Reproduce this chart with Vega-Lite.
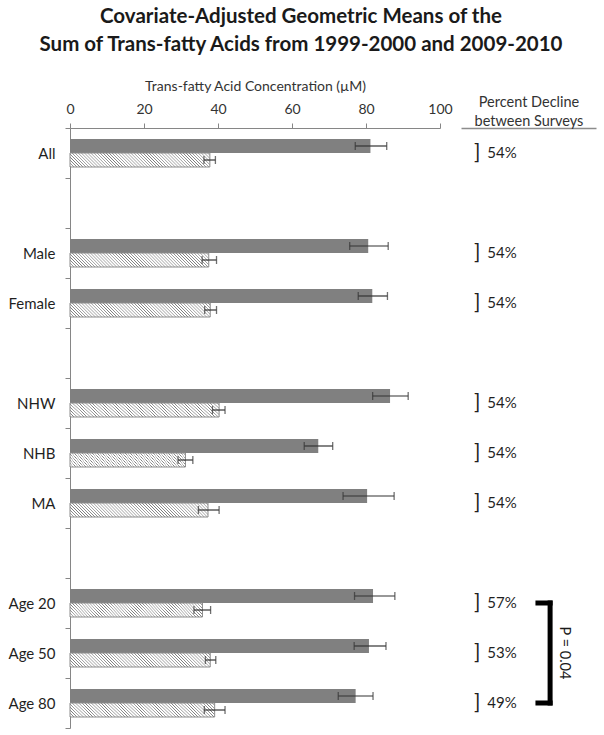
{
  "$schema": "https://vega.github.io/schema/vega-lite/v6.json",
  "autosize": {"type": "none"},
  "padding": {"left": 70, "top": 128, "right": 534, "bottom": 607},
  "background": "white",
  "title": {
    "text": ["Covariate-Adjusted Geometric Means of the", "Sum of Trans-fatty Acids from 1999-2000 and 2009-2010"],
    "anchor": "start",
    "align": "center",
    "frame": "group",
    "dx": 231,
    "font": "Lato",
    "fontSize": 20.5,
    "fontWeight": "bold",
    "color": "#1a1a1a",
    "lineHeight": 28,
    "offset": 24
  },
  "datasets": {
    "means": [
      {"group": "All", "survey": "1999-2000", "value": 81.2, "lo": 77.1, "hi": 85.6},
      {"group": "All", "survey": "2009-2010", "value": 37.8, "lo": 36.2, "hi": 39.3},
      {"group": "Male", "survey": "1999-2000", "value": 80.6, "lo": 75.6, "hi": 86.0},
      {"group": "Male", "survey": "2009-2010", "value": 37.5, "lo": 35.7, "hi": 39.6},
      {"group": "Female", "survey": "1999-2000", "value": 81.7, "lo": 77.9, "hi": 85.8},
      {"group": "Female", "survey": "2009-2010", "value": 37.9, "lo": 36.4, "hi": 39.6},
      {"group": "NHW", "survey": "1999-2000", "value": 86.5, "lo": 81.8, "hi": 91.4},
      {"group": "NHW", "survey": "2009-2010", "value": 40.3, "lo": 38.5, "hi": 41.9},
      {"group": "NHB", "survey": "1999-2000", "value": 67.1, "lo": 63.3, "hi": 71.0},
      {"group": "NHB", "survey": "2009-2010", "value": 31.2, "lo": 29.2, "hi": 33.2},
      {"group": "MA", "survey": "1999-2000", "value": 80.3, "lo": 73.8, "hi": 87.6},
      {"group": "MA", "survey": "2009-2010", "value": 37.3, "lo": 34.7, "hi": 40.3},
      {"group": "Age 20", "survey": "1999-2000", "value": 81.9, "lo": 76.9, "hi": 87.8},
      {"group": "Age 20", "survey": "2009-2010", "value": 35.8, "lo": 33.5, "hi": 38.0},
      {"group": "Age 50", "survey": "1999-2000", "value": 80.8, "lo": 76.8, "hi": 85.4},
      {"group": "Age 50", "survey": "2009-2010", "value": 37.9, "lo": 36.6, "hi": 39.4},
      {"group": "Age 80", "survey": "1999-2000", "value": 77.2, "lo": 72.5, "hi": 81.9},
      {"group": "Age 80", "survey": "2009-2010", "value": 39.1, "lo": 36.3, "hi": 41.9}
    ],
    "pct": [
      {"group": "All", "decline": 0.54},
      {"group": "Male", "decline": 0.54},
      {"group": "Female", "decline": 0.54},
      {"group": "NHW", "decline": 0.54},
      {"group": "NHB", "decline": 0.54},
      {"group": "MA", "decline": 0.54},
      {"group": "Age 20", "decline": 0.57},
      {"group": "Age 50", "decline": 0.53},
      {"group": "Age 80", "decline": 0.49}
    ],
    "arms": [{"group": "Age 20"}, {"group": "Age 80"}],
    "span": [{"group": "Age 20", "group2": "Age 80"}],
    "ptext": [{"group": "Age 50", "label": "P = 0.04"}]
  },
  "spacing": 8,
  "hconcat": [
    {
      "width": 370,
      "height": 600,
      "data": {"name": "means"},
      "encoding": {
        "y": {
          "field": "group",
          "type": "nominal",
          "sort": null,
          "scale": {"domain": ["All", "gap1", "Male", "Female", "gap2", "NHW", "NHB", "MA", "gap3", "Age 20", "Age 50", "Age 80"], "paddingInner": 0, "paddingOuter": 0},
          "axis": {
            "title": null,
            "orient": "left",
            "labelExpr": "substring(datum.value, 0, 3) === 'gap' ? '' : datum.value",
            "tickBand": "extent",
            "tickSize": 5,
            "tickColor": "#868686",
            "domainColor": "#868686",
            "labelFont": "Lato",
            "labelFontSize": 15,
            "labelColor": "#1f1f1f",
            "labelPadding": 10
          }
        },
        "yOffset": {
          "field": "survey",
          "type": "nominal",
          "scale": {"domain": ["1999-2000", "2009-2010"], "paddingInner": 0, "paddingOuter": 0.7857}
        }
      },
      "layer": [
        {
          "transform": [{"filter": "datum.survey === '1999-2000'"}],
          "mark": {"type": "bar", "fill": "#808080", "stroke": null},
          "encoding": {
            "x": {
              "field": "value",
              "type": "quantitative",
              "scale": {"domain": [0, 100], "nice": false},
              "title": "Trans-fatty Acid Concentration (µM)",
              "axis": {
                "orient": "top",
                "values": [0, 20, 40, 60, 80, 100],
                "grid": false,
                "tickSize": 5,
                "tickColor": "#868686",
                "domainColor": "#868686",
                "labelFont": "Lato",
                "labelFontSize": 14,
                "labelColor": "#333333",
                "labelPadding": 7,
                "labelFlush": false,
                "labelOverlap": false,
                "titleFont": "Lato",
                "titleFontSize": 14,
                "titleFontWeight": "normal",
                "titleColor": "#333333",
                "titlePadding": 9
              }
            }
          }
        },
        {
          "transform": [{"filter": "datum.survey === '2009-2010'"}],
          "mark": {
            "type": "bar",
            "stroke": "#8c8c8c",
            "strokeWidth": 1,
            "fill": {
              "gradient": "linear",
              "x1": 0, "y1": 1, "x2": 1.0891, "y2": 0.8911,
              "stops": [
                {"offset": 0, "color": "#fff"}, {"offset": 0.005, "color": "#7a7a7a"}, {"offset": 0.01, "color": "#fff"},
                {"offset": 0.02, "color": "#fff"}, {"offset": 0.025, "color": "#7a7a7a"}, {"offset": 0.03, "color": "#fff"},
                {"offset": 0.04, "color": "#fff"}, {"offset": 0.045, "color": "#7a7a7a"}, {"offset": 0.05, "color": "#fff"},
                {"offset": 0.06, "color": "#fff"}, {"offset": 0.065, "color": "#7a7a7a"}, {"offset": 0.07, "color": "#fff"},
                {"offset": 0.08, "color": "#fff"}, {"offset": 0.085, "color": "#7a7a7a"}, {"offset": 0.09, "color": "#fff"},
                {"offset": 0.1, "color": "#fff"}, {"offset": 0.105, "color": "#7a7a7a"}, {"offset": 0.11, "color": "#fff"},
                {"offset": 0.12, "color": "#fff"}, {"offset": 0.125, "color": "#7a7a7a"}, {"offset": 0.13, "color": "#fff"},
                {"offset": 0.14, "color": "#fff"}, {"offset": 0.145, "color": "#7a7a7a"}, {"offset": 0.15, "color": "#fff"},
                {"offset": 0.16, "color": "#fff"}, {"offset": 0.165, "color": "#7a7a7a"}, {"offset": 0.17, "color": "#fff"},
                {"offset": 0.18, "color": "#fff"}, {"offset": 0.185, "color": "#7a7a7a"}, {"offset": 0.19, "color": "#fff"},
                {"offset": 0.2, "color": "#fff"}, {"offset": 0.205, "color": "#7a7a7a"}, {"offset": 0.21, "color": "#fff"},
                {"offset": 0.22, "color": "#fff"}, {"offset": 0.225, "color": "#7a7a7a"}, {"offset": 0.23, "color": "#fff"},
                {"offset": 0.24, "color": "#fff"}, {"offset": 0.245, "color": "#7a7a7a"}, {"offset": 0.25, "color": "#fff"},
                {"offset": 0.26, "color": "#fff"}, {"offset": 0.265, "color": "#7a7a7a"}, {"offset": 0.27, "color": "#fff"},
                {"offset": 0.28, "color": "#fff"}, {"offset": 0.285, "color": "#7a7a7a"}, {"offset": 0.29, "color": "#fff"},
                {"offset": 0.3, "color": "#fff"}, {"offset": 0.305, "color": "#7a7a7a"}, {"offset": 0.31, "color": "#fff"},
                {"offset": 0.32, "color": "#fff"}, {"offset": 0.325, "color": "#7a7a7a"}, {"offset": 0.33, "color": "#fff"},
                {"offset": 0.34, "color": "#fff"}, {"offset": 0.345, "color": "#7a7a7a"}, {"offset": 0.35, "color": "#fff"},
                {"offset": 0.36, "color": "#fff"}, {"offset": 0.365, "color": "#7a7a7a"}, {"offset": 0.37, "color": "#fff"},
                {"offset": 0.38, "color": "#fff"}, {"offset": 0.385, "color": "#7a7a7a"}, {"offset": 0.39, "color": "#fff"},
                {"offset": 0.4, "color": "#fff"}, {"offset": 0.405, "color": "#7a7a7a"}, {"offset": 0.41, "color": "#fff"},
                {"offset": 0.42, "color": "#fff"}, {"offset": 0.425, "color": "#7a7a7a"}, {"offset": 0.43, "color": "#fff"},
                {"offset": 0.44, "color": "#fff"}, {"offset": 0.445, "color": "#7a7a7a"}, {"offset": 0.45, "color": "#fff"},
                {"offset": 0.46, "color": "#fff"}, {"offset": 0.465, "color": "#7a7a7a"}, {"offset": 0.47, "color": "#fff"},
                {"offset": 0.48, "color": "#fff"}, {"offset": 0.485, "color": "#7a7a7a"}, {"offset": 0.49, "color": "#fff"},
                {"offset": 0.5, "color": "#fff"}, {"offset": 0.505, "color": "#7a7a7a"}, {"offset": 0.51, "color": "#fff"},
                {"offset": 0.52, "color": "#fff"}, {"offset": 0.525, "color": "#7a7a7a"}, {"offset": 0.53, "color": "#fff"},
                {"offset": 0.54, "color": "#fff"}, {"offset": 0.545, "color": "#7a7a7a"}, {"offset": 0.55, "color": "#fff"},
                {"offset": 0.56, "color": "#fff"}, {"offset": 0.565, "color": "#7a7a7a"}, {"offset": 0.57, "color": "#fff"},
                {"offset": 0.58, "color": "#fff"}, {"offset": 0.585, "color": "#7a7a7a"}, {"offset": 0.59, "color": "#fff"},
                {"offset": 0.6, "color": "#fff"}, {"offset": 0.605, "color": "#7a7a7a"}, {"offset": 0.61, "color": "#fff"},
                {"offset": 0.62, "color": "#fff"}, {"offset": 0.625, "color": "#7a7a7a"}, {"offset": 0.63, "color": "#fff"},
                {"offset": 0.64, "color": "#fff"}, {"offset": 0.645, "color": "#7a7a7a"}, {"offset": 0.65, "color": "#fff"},
                {"offset": 0.66, "color": "#fff"}, {"offset": 0.665, "color": "#7a7a7a"}, {"offset": 0.67, "color": "#fff"},
                {"offset": 0.68, "color": "#fff"}, {"offset": 0.685, "color": "#7a7a7a"}, {"offset": 0.69, "color": "#fff"},
                {"offset": 0.7, "color": "#fff"}, {"offset": 0.705, "color": "#7a7a7a"}, {"offset": 0.71, "color": "#fff"},
                {"offset": 0.72, "color": "#fff"}, {"offset": 0.725, "color": "#7a7a7a"}, {"offset": 0.73, "color": "#fff"},
                {"offset": 0.74, "color": "#fff"}, {"offset": 0.745, "color": "#7a7a7a"}, {"offset": 0.75, "color": "#fff"},
                {"offset": 0.76, "color": "#fff"}, {"offset": 0.765, "color": "#7a7a7a"}, {"offset": 0.77, "color": "#fff"},
                {"offset": 0.78, "color": "#fff"}, {"offset": 0.785, "color": "#7a7a7a"}, {"offset": 0.79, "color": "#fff"},
                {"offset": 0.8, "color": "#fff"}, {"offset": 0.805, "color": "#7a7a7a"}, {"offset": 0.81, "color": "#fff"},
                {"offset": 0.82, "color": "#fff"}, {"offset": 0.825, "color": "#7a7a7a"}, {"offset": 0.83, "color": "#fff"},
                {"offset": 0.84, "color": "#fff"}, {"offset": 0.845, "color": "#7a7a7a"}, {"offset": 0.85, "color": "#fff"},
                {"offset": 0.86, "color": "#fff"}, {"offset": 0.865, "color": "#7a7a7a"}, {"offset": 0.87, "color": "#fff"},
                {"offset": 0.88, "color": "#fff"}, {"offset": 0.885, "color": "#7a7a7a"}, {"offset": 0.89, "color": "#fff"},
                {"offset": 0.9, "color": "#fff"}, {"offset": 0.905, "color": "#7a7a7a"}, {"offset": 0.91, "color": "#fff"},
                {"offset": 0.92, "color": "#fff"}, {"offset": 0.925, "color": "#7a7a7a"}, {"offset": 0.93, "color": "#fff"},
                {"offset": 0.94, "color": "#fff"}, {"offset": 0.945, "color": "#7a7a7a"}, {"offset": 0.95, "color": "#fff"},
                {"offset": 0.96, "color": "#fff"}, {"offset": 0.965, "color": "#7a7a7a"}, {"offset": 0.97, "color": "#fff"},
                {"offset": 0.98, "color": "#fff"}, {"offset": 0.985, "color": "#7a7a7a"}, {"offset": 0.99, "color": "#fff"},
                {"offset": 1, "color": "#fff"}
              ]
            }
          },
          "encoding": {
            "x": {"field": "value", "type": "quantitative", "title": "Trans-fatty Acid Concentration (µM)"}
          }
        },
        {
          "mark": {"type": "rule", "color": "#333333", "strokeWidth": 1.2},
          "encoding": {
            "x": {"field": "lo", "type": "quantitative", "title": "Trans-fatty Acid Concentration (µM)"},
            "x2": {"field": "hi"}
          }
        },
        {
          "mark": {"type": "tick", "color": "#333333", "thickness": 1.3, "size": 8, "orient": "vertical"},
          "encoding": {
            "x": {"field": "lo", "type": "quantitative", "title": "Trans-fatty Acid Concentration (µM)"}
          }
        },
        {
          "mark": {"type": "tick", "color": "#333333", "thickness": 1.3, "size": 8, "orient": "vertical"},
          "encoding": {
            "x": {"field": "hi", "type": "quantitative", "title": "Trans-fatty Acid Concentration (µM)"}
          }
        }
      ]
    },
    {
      "width": 135,
      "height": 600,
      "encoding": {
        "y": {
          "field": "group",
          "type": "nominal",
          "sort": null,
          "scale": {"domain": ["All", "gap1", "Male", "Female", "gap2", "NHW", "NHB", "MA", "gap3", "Age 20", "Age 50", "Age 80"], "paddingInner": 0, "paddingOuter": 0},
          "axis": null
        }
      },
      "layer": [
        {
          "data": {"name": "pct"},
          "mark": {"type": "text", "text": "]", "font": "Lato", "fontSize": 21, "fontWeight": "normal", "color": "#1f1f1f", "align": "center", "baseline": "middle"},
          "encoding": {
            "x": {
              "datum": 12,
              "type": "quantitative",
              "scale": {"domain": [0, 100], "nice": false},
              "axis": {
                "orient": "top",
                "title": ["Percent Decline", "between Surveys"],
                "titleFont": "Lato",
                "titleFontSize": 14.5,
                "titleFontWeight": "normal",
                "titleColor": "#333333",
                "titleLineHeight": 18.5,
                "titlePadding": 0,
                "ticks": false,
                "labels": false,
                "grid": false,
                "domainColor": "#8c8c8c",
                "domainWidth": 1.5
              }
            }
          }
        },
        {
          "data": {"name": "pct"},
          "mark": {"type": "text", "font": "Lato", "fontSize": 15, "color": "#1f1f1f", "align": "left", "baseline": "middle"},
          "encoding": {
            "x": {"datum": 19.5, "type": "quantitative", "scale": {"domain": [0, 100], "nice": false}},
            "text": {"field": "decline", "type": "quantitative", "format": ".0%"}
          }
        },
        {
          "data": {"name": "arms"},
          "mark": {"type": "rule", "color": "#000000", "strokeWidth": 5, "strokeCap": "square"},
          "encoding": {
            "x": {"datum": 57, "type": "quantitative", "scale": {"domain": [0, 100], "nice": false}},
            "x2": {"datum": 66}
          }
        },
        {
          "data": {"name": "span"},
          "mark": {"type": "rule", "color": "#000000", "strokeWidth": 5, "strokeCap": "square"},
          "encoding": {
            "x": {"datum": 66, "type": "quantitative", "scale": {"domain": [0, 100], "nice": false}},
            "y2": {"field": "group2"}
          }
        },
        {
          "data": {"name": "ptext"},
          "mark": {"type": "text", "font": "Lato", "fontSize": 14.5, "color": "#1a1a1a", "angle": 90, "align": "center", "baseline": "middle"},
          "encoding": {
            "x": {"datum": 76, "type": "quantitative", "scale": {"domain": [0, 100], "nice": false}},
            "text": {"field": "label"}
          }
        }
      ]
    }
  ],
  "config": {
    "view": {"stroke": null},
    "font": "Lato"
  }
}
